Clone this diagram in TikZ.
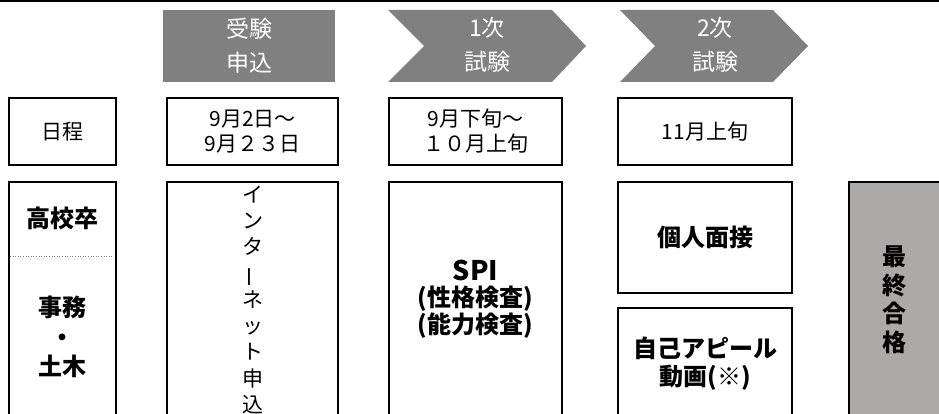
\documentclass[tikz,border=0pt]{standalone}
\usepackage{fontspec}
\setmainfont{Noto Sans CJK JP}
\definecolor{hd}{RGB}{128,128,128}
\definecolor{fin}{RGB}{172,169,169}
\tikzset{
  box/.style={draw=black, line width=1.1pt, fill=white, inner sep=0pt, align=center, font=\fontsize{21pt}{25pt}\selectfont},
  head/.style={inner sep=0pt, align=center, text=white, font=\fontsize{23pt}{34pt}\selectfont},
  bold/.style={inner sep=0pt, align=center, font=\bfseries\fontsize{24pt}{29.5pt}\selectfont}
}

\begin{document}
\begin{tikzpicture}
\useasboundingbox (0pt,0pt) rectangle (939pt,-414pt);
\clip (0pt,0pt) rectangle (939pt,-414pt);
\fill [black] (0pt,0pt) rectangle (939pt,-2.5pt);
\node (1) [head, fill=hd, minimum width=172pt, minimum height=72pt] at (249pt,-46pt) {受験\\申込};
\fill [hd] (388pt,-10pt) -- (552pt,-10pt) -- (586pt,-46pt) -- (552pt,-82pt) -- (388pt,-82pt) -- (424pt,-46pt) -- cycle;
\node (2) [head] at (487pt,-45pt) {1次\\試験};
\fill [hd] (620pt,-10pt) -- (773pt,-10pt) -- (808pt,-46pt) -- (773pt,-82pt) -- (620pt,-82pt) -- (655pt,-46pt) -- cycle;
\node (3) [head] at (715pt,-45pt) {2次\\試験};
\node (4) [box, minimum width=107pt, minimum height=67pt] at (62.5pt,-131.5pt) {日程};
\node (5) [box, minimum width=171pt, minimum height=67pt] at (252.5pt,-131.5pt) {9月2日～\\9月２３日};
\node (6) [box, minimum width=173pt, minimum height=67pt] at (475.5pt,-131.5pt) {9月下旬～\\１０月上旬};
\node (7) [box, minimum width=174pt, minimum height=67pt] at (705pt,-131.5pt) {11月上旬};
\node (8) [box, minimum width=107pt, minimum height=258pt] at (62.5pt,-311pt) {};
\node (9) [box, minimum width=171pt, minimum height=258pt] at (252.5pt,-311pt) {};
\node (10) [box, minimum width=173pt, minimum height=258pt] at (475.5pt,-311pt) {};
\node (11) [box, minimum width=174pt, minimum height=111pt, font=\bfseries\fontsize{24pt}{29.5pt}\selectfont] at (705pt,-237.5pt) {個人面接};
\node (12) [box, minimum width=174pt, minimum height=132pt] at (705pt,-374pt) {};
\node (13) [box, fill=fin, minimum width=111pt, minimum height=258pt] at (904.5pt,-311pt) {};
\draw [gray, line width=0.6pt, dotted] (10pt,-256pt) -- (114pt,-256pt);
\node (14) [bold] at (62.5pt,-218pt) {高校卒};
\node (15) [bold] at (62.5pt,-337pt) {事務\\・\\土木};
\node (16) [inner sep=0pt, align=center, font=\fontsize{21pt}{26.25pt}\selectfont] at (252.5pt,-300pt) {イ\\ン\\タ\\\rotatebox[origin=c]{90}{ー}\\ネ\\ッ\\ト\\申\\込};
\node (17) [bold, font=\bfseries\fontsize{24pt}{26.5pt}\selectfont] at (475.5pt,-299pt) {{\fontsize{27pt}{26.5pt}\selectfont SPI}\\(性格検査)\\(能力検査)};
\node (18) [bold, font=\bfseries\fontsize{24pt}{28pt}\selectfont] at (705pt,-364pt) {自己アピール\\動画(※)};
\node (19) [bold, font=\bfseries\fontsize{24pt}{28.5pt}\selectfont] at (894pt,-300pt) {最\\終\\合\\格};
\end{tikzpicture}
\end{document}
